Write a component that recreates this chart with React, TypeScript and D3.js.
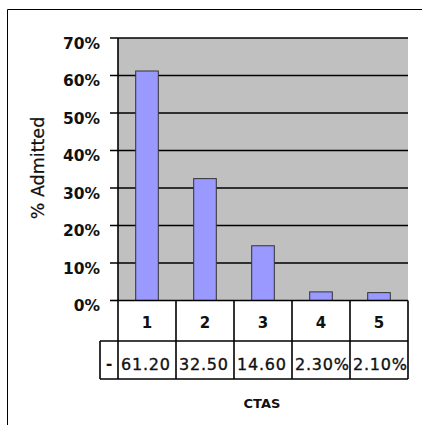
import React from "react";
import * as d3 from "d3";

const categories = ["1", "2", "3", "4", "5"];
const admitted = [61.2, 32.5, 14.6, 2.3, 2.1];
const tableLabels = ["61.20", "32.50", "14.60", "2.30%", "2.10%"];
const yTicks = [0, 10, 20, 30, 40, 50, 60, 70];

export default function App() {
  const W = 422, H = 425;
  const left = 118, right = 408, top = 38, bottom = 300.5;
  const x = d3.scaleBand<string>().domain(categories).range([left, right]).paddingInner(0).paddingOuter(0);
  const y = d3.scaleLinear().domain([0, 70]).range([bottom, top]);
  const barW = x.bandwidth() * 0.39;
  const row1B = 341, row2B = 379, dashL = 100;
  const font = "'DejaVu Sans', Verdana, sans-serif";
  return (
    <svg width={W} height={H} style={{ position: "absolute", left: 0, top: 0 }}>
      <defs>
        {categories.map((c, i) => (
          <clipPath id={`clip${i}`} key={c}>
            <rect x={x(c)!} y={row1B} width={x.bandwidth()} height={row2B - row1B} />
          </clipPath>
        ))}
      </defs>
      <rect x={0} y={0} width={W} height={H} fill="#fff" />
      <path d={`M7.5,${H} V9.5 H${W}`} fill="none" stroke="#000" strokeWidth={1} />
      <rect x={left} y={top} width={right - left} height={bottom - top} fill="#C0C0C0" />
      {yTicks.map((t) => (
        <g key={t}>
          <line x1={left - 8} x2={t === 0 ? left : right} y1={y(t)} y2={y(t)} stroke="#000" strokeWidth={1.6} />
          <text x={100} y={y(t) + 6} textAnchor="end" dominantBaseline="middle" fontFamily={font} fontWeight="bold" fontSize={15.5} fill="#111">
            {t}%
          </text>
        </g>
      ))}
      <line x1={left} x2={left} y1={top} y2={bottom} stroke="#000" strokeWidth={1.6} />
      {categories.map((c, i) => (
        <rect key={c} x={x(c)! + (x.bandwidth() - barW) / 2} y={y(admitted[i])} width={barW} height={bottom - y(admitted[i])} fill="#9999FF" stroke="#333" strokeWidth={1} />
      ))}
      {/* data table */}
      <line x1={left} x2={right} y1={bottom} y2={bottom} stroke="#000" strokeWidth={1.6} />
      <line x1={dashL} x2={right} y1={row1B} y2={row1B} stroke="#000" strokeWidth={1.6} />
      <line x1={dashL} x2={right} y1={row2B} y2={row2B} stroke="#000" strokeWidth={1.6} />
      <line x1={dashL} x2={dashL} y1={row1B} y2={row2B} stroke="#000" strokeWidth={1.6} />
      {[...categories.map((c) => x(c)!), right].map((xx, i) => (
        <line key={i} x1={xx} x2={xx} y1={bottom} y2={row2B} stroke="#000" strokeWidth={1.6} />
      ))}
      <text x={(dashL + left) / 2} y={(row1B + row2B) / 2 + 4} textAnchor="middle" dominantBaseline="middle" fontFamily={font} fontWeight="bold" fontSize={16} fill="#111">-</text>
      {categories.map((c, i) => (
        <g key={c}>
          <text x={x(c)! + x.bandwidth() / 2} y={(bottom + row1B) / 2 + 3} textAnchor="middle" dominantBaseline="middle" fontFamily={font} fontWeight="bold" fontSize={15} fill="#111">{c}</text>
          <text clipPath={`url(#clip${i})`} x={x(c)! + 3} y={(row1B + row2B) / 2 + 5} dominantBaseline="middle" fontFamily={font} fontSize={16} letterSpacing={0.8} fill="#111" stroke="#111" strokeWidth={0.35}>{tableLabels[i]}</text>
        </g>
      ))}
      <text x={262} y={408} textAnchor="middle" fontFamily={font} fontWeight="bold" fontSize={13} fill="#111">CTAS</text>
      <text transform={`translate(39,168) rotate(-90)`} textAnchor="middle" dominantBaseline="middle" fontFamily={font} fontSize={17.5} fill="#111" stroke="#111" strokeWidth={0.25}>% Admitted</text>
    </svg>
  );
}
